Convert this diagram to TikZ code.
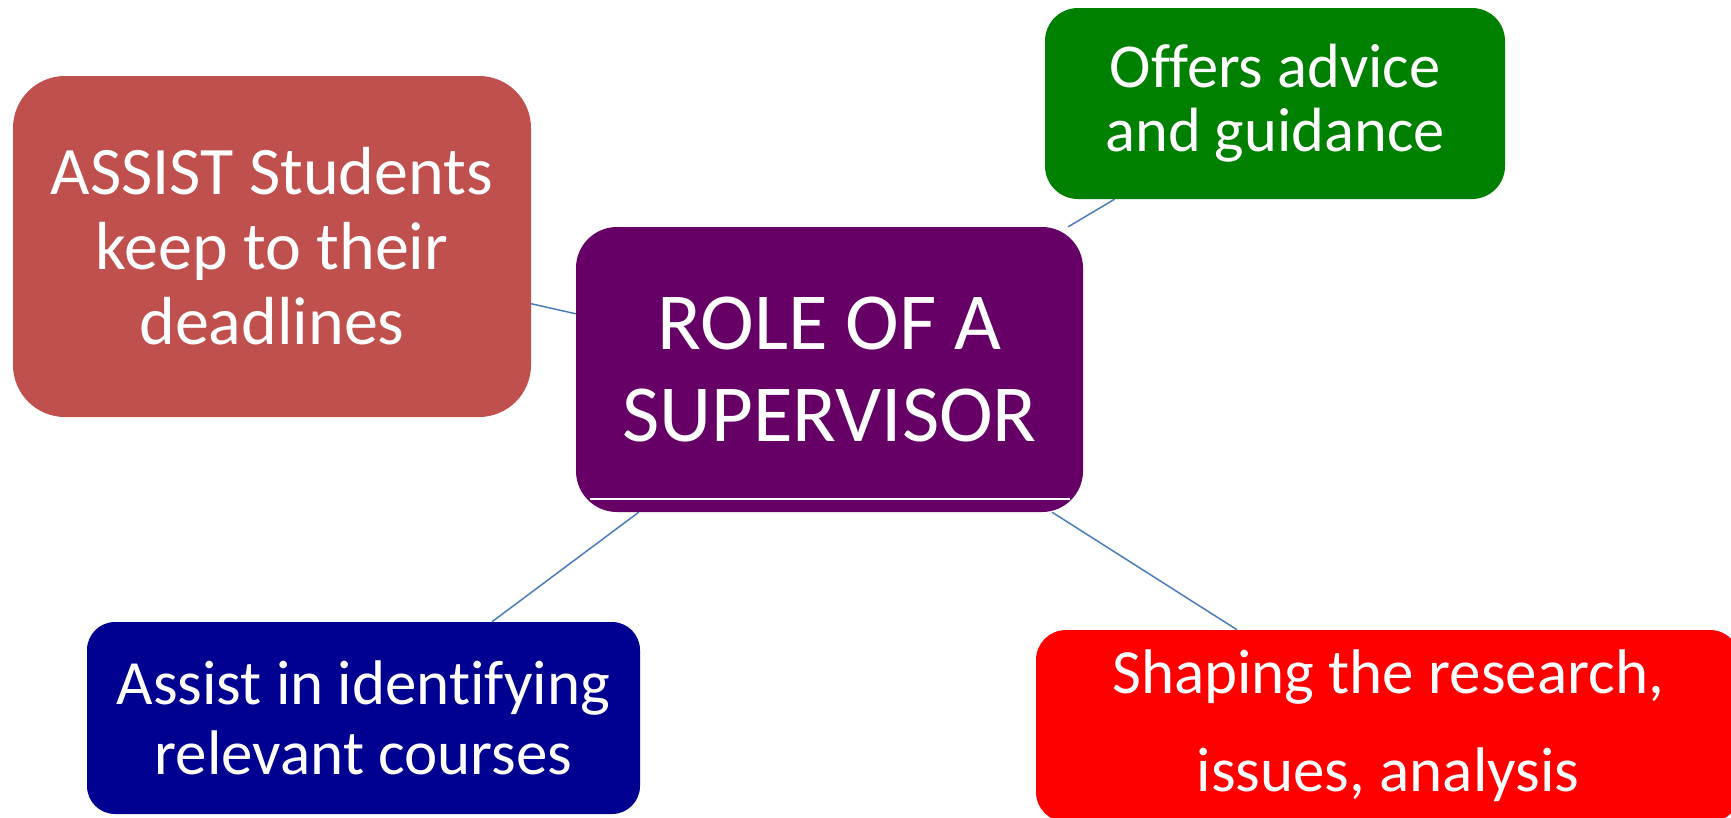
\documentclass[tikz,border=0pt]{standalone}
\usepackage{fontspec}
\setmainfont[Ligatures=NoCommon]{Carlito}
\usepackage{tikz}
\usetikzlibrary{positioning}
\definecolor{rustred}{RGB}{192,80,77}
\definecolor{plum}{RGB}{102,0,102}
\definecolor{leafgreen}{RGB}{0,128,0}
\definecolor{navyblue}{RGB}{0,0,145}
\definecolor{linkblue}{RGB}{74,126,187}

\begin{document}
\begin{tikzpicture}[x=1pt,y=-1pt,
  main node/.style={rectangle,inner sep=0pt,text=white,align=center},
  every edge/.style={draw=linkblue,line width=1.5pt}]
  \useasboundingbox (0,0) rectangle (1731,817);
  \clip (0,0) rectangle (1731,817);

  \node[main node,fill=plum,minimum width=507pt,minimum height=285pt,rounded corners=41pt,
    font=\fontsize{81}{92}\selectfont] (0) at (829.5,369.5) {ROLE OF A\\SUPERVISOR};
  \node[main node,fill=rustred,minimum width=518pt,minimum height=341pt,rounded corners=52pt,
    font=\fontsize{68}{75}\selectfont] (1) at (272,246.5) {ASSIST Students\\keep to their\\deadlines};
  \node[main node,fill=leafgreen,minimum width=460pt,minimum height=191pt,rounded corners=33pt,
    font=\fontsize{62.5}{64}\selectfont] (2) at (1275,103.5) {Offers advice\\and guidance};
  \node[main node,fill=navyblue,minimum width=553pt,minimum height=192pt,rounded corners=28pt,
    font=\fontsize{63}{70}\selectfont] (3) at (363.5,718) {Assist in identifying\\relevant courses};
  \node[main node,fill=red,minimum width=704pt,minimum height=192pt,rounded corners=30pt,
    font=\fontsize{63}{98}\selectfont] (4) at (1388,726) {Shaping the research,\\issues, analysis};

  % thin white seam near the bottom of the centre box
  \draw[white,line width=1.5pt] ([xshift=14pt,yshift=13pt]0.south west) -- ([xshift=-13pt,yshift=13pt]0.south east);

  \path (1) edge (0)
        (2) edge (0)
        (3) edge (0)
        (4) edge (0);
\end{tikzpicture}
\end{document}
